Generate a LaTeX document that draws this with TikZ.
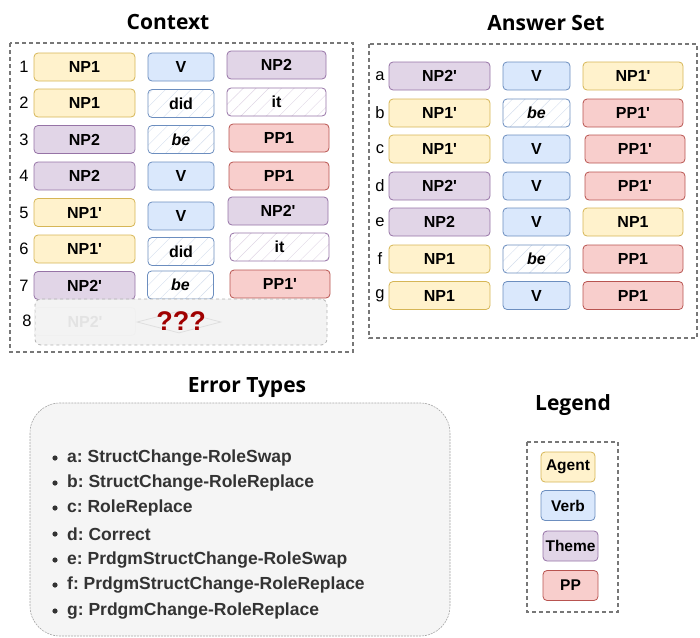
\documentclass[tikz,border=0pt]{standalone}
\usepackage{fontspec}
\setmainfont{Liberation Sans}[Ligatures=TeXOff]
\newfontfamily\titlefont{Open Sans}
\usetikzlibrary{shapes.geometric,patterns.meta}
\frenchspacing
\newcommand{\pr}{'}
\definecolor{yfill}{HTML}{FFF2CC}\definecolor{ydraw}{HTML}{D6B656}
\definecolor{bfill}{HTML}{DAE8FC}\definecolor{bdraw}{HTML}{6C8EBF}
\definecolor{pfill}{HTML}{E1D5E7}\definecolor{pdraw}{HTML}{9673A6}
\definecolor{rfill}{HTML}{F8CECC}\definecolor{rdraw}{HTML}{B85450}
\definecolor{boxgray}{HTML}{777777}
\definecolor{txtgray}{HTML}{333333}
\definecolor{qred}{HTML}{A00000}
\tikzset{
  wbox/.style={rounded corners=4pt, line width=0.8pt, minimum height=28pt, inner sep=0pt,
    font=\fontsize{16}{19}\selectfont\bfseries},
  wide/.style={wbox, minimum width=101pt},
  mid/.style={wbox, minimum width=66pt},
  ag/.style={fill=yfill, draw=ydraw},
  vb/.style={fill=bfill, draw=bdraw},
  th/.style={fill=pfill, draw=pdraw},
  ppb/.style={fill=rfill, draw=rdraw},
  hatchb/.style={draw=bdraw, pattern={Lines[angle=45,distance=9pt,line width=0.4pt]}, pattern color=bdraw!30},
  hatchp/.style={draw=pdraw, pattern={Lines[angle=45,distance=9pt,line width=0.4pt]}, pattern color=pdraw!30},
  rownum/.style={font=\fontsize{16.5}{19}\selectfont, inner sep=0pt},
  ttl/.style={font=\titlefont\bfseries\fontsize{21}{25}\selectfont, inner sep=0pt},
  dbox/.style={draw=boxgray, line width=1.2pt, dash pattern=on 4pt off 3pt},
  lg/.style={rounded corners=4pt, line width=0.8pt, inner sep=0pt, minimum width=54pt, minimum height=30pt,
    font=\fontsize{15.5}{18}\selectfont\bfseries},
  item/.style={anchor=west, inner sep=0pt, text=txtgray, font=\fontsize{17.5}{20}\selectfont\bfseries},
}
\begin{document}
\begin{tikzpicture}[x=1pt,y=-1pt]
\useasboundingbox (0,0) rectangle (700,637);
% titles
\node[ttl] (tctx) at (168,22) {Context};
\node[ttl] (tans) at (546,23) {Answer Set};
\node[ttl] (terr) at (247,388) {Error Types};
\node[ttl] (tleg) at (573,405) {Legend};
% dashed frames
\draw[dbox] (10,43) rectangle (353,352);
\draw[dbox] (369,44) rectangle (697,338);
% ---- Context rows
\node[rownum] (n1) at (24,67) {1};
\node[wide,ag] (c1a) at (84.5,67) {NP1};
\node[mid,vb] (c1b) at (181,67) {V};
\node[wide,th,minimum width=99pt] (c1c) at (276.5,65) {NP2};
\node[rownum] (n2) at (24,103) {2};
\node[wide,ag] (c2a) at (84.5,103) {NP1};
\node[mid,hatchb] (c2b) at (181,103.5) {did};
\node[wide,hatchp,minimum width=99pt] (c2c) at (276.5,102) {it};
\node[rownum] (n3) at (24,139.5) {3};
\node[wide,th] (c3a) at (84.5,139.5) {NP2};
\node[mid,hatchb] (c3b) at (181,139.5) {\itshape be};
\node[wide,ppb,minimum width=100pt] (c3c) at (279,138) {PP1};
\node[rownum] (n4) at (24,176) {4};
\node[wide,th] (c4a) at (84.5,176) {NP2};
\node[mid,vb] (c4b) at (181,176) {V};
\node[wide,ppb,minimum width=100pt] (c4c) at (279,176) {PP1};
\node[rownum] (n5) at (24,212.5) {5};
\node[wide,ag] (c5a) at (84.5,212.5) {NP1\pr};
\node[mid,vb] (c5b) at (181,216) {V};
\node[wide,th,minimum width=100pt] (c5c) at (278,211) {NP2\pr};
\node[rownum] (n6) at (24,249) {6};
\node[wide,ag] (c6a) at (84.5,249) {NP1\pr};
\node[mid,hatchb] (c6b) at (181,251.5) {did};
\node[wide,hatchp,minimum width=99pt] (c6c) at (279.5,247) {it};
\node[rownum] (n7) at (24,285.5) {7};
\node[wide,th] (c7a) at (84.5,285.5) {NP2\pr};
\node[mid,hatchb] (c7b) at (180.5,285) {\itshape be};
\node[wide,ppb,minimum width=100pt] (c7c) at (280,284) {PP1\pr};
\node[rownum] (n8) at (27,321) {8};
% ghost row 8
\node[rounded corners=6pt, fill=white!95!black, fill opacity=0.9, draw=gray!60, dashed, line width=0.8pt,
  minimum width=292pt, minimum height=46pt, inner sep=0pt] (ghost) at (181,322) {};
\node[wide, draw=gray!12, text=gray!22] (c8a) at (85,321.5) {NP2\pr};
\node[diamond, draw=gray!25, line width=0.8pt, minimum width=84pt, minimum height=22pt, inner sep=0pt, aspect=4] (c8b) at (179,322) {};
\node[inner sep=0pt, text=qred, font=\fontsize{27}{30}\selectfont\bfseries] (qq) at (181,321) {???};
% ---- Answer set rows
\node[rownum] (la) at (380,76) {a};
\node[wide,th] (aa) at (439.5,76) {NP2\pr};
\node[mid,vb,minimum width=67pt] (ab) at (536.5,76) {V};
\node[wide,ag,minimum width=100pt] (ac) at (633,76) {NP1\pr};
\node[rownum] (lb) at (380,113) {b};
\node[wide,ag] (ba) at (439.5,113) {NP1\pr};
\node[mid,hatchb,minimum width=67pt] (bb) at (536.5,113) {\itshape be};
\node[wide,ppb,minimum width=100pt] (bc) at (633,113) {PP1\pr};
\node[rownum] (lc) at (380,149) {c};
\node[wide,ag] (ca) at (439.5,149) {NP1\pr};
\node[mid,vb,minimum width=67pt] (cb) at (536.5,149) {V};
\node[wide,ppb,minimum width=100pt] (cc) at (635,149) {PP1\pr};
\node[rownum] (ld) at (380,186) {d};
\node[wide,th] (da) at (439.5,186) {NP2\pr};
\node[mid,vb,minimum width=67pt] (db) at (536.5,186) {V};
\node[wide,ppb,minimum width=100pt] (dc) at (635,186) {PP1\pr};
\node[rownum] (le) at (380,222) {e};
\node[wide,th] (ea) at (439.5,222) {NP2};
\node[mid,vb,minimum width=67pt] (eb) at (536.5,222) {V};
\node[wide,ag,minimum width=100pt] (ec) at (633,222) {NP1};
\node[rownum] (lf) at (380,259) {f};
\node[wide,ag] (fa) at (439.5,259) {NP1};
\node[mid,hatchb,minimum width=67pt] (fb) at (536.5,259) {\itshape be};
\node[wide,ppb,minimum width=100pt] (fc) at (633,259) {PP1};
\node[rownum] (lg) at (380,295.5) {g};
\node[wide,ag] (ga) at (439.5,295.5) {NP1};
\node[mid,vb,minimum width=67pt] (gb) at (536.5,295.5) {V};
\node[wide,ppb,minimum width=100pt] (gc) at (633,295.5) {PP1};
% ---- Error types
\draw[rounded corners=30pt, fill=white!96!black, draw=gray!70, dash pattern=on 2pt off 1pt, line width=0.6pt]
  (30,403) rectangle (450,636);
\foreach \y/\t/\n in {458/a: StructChange-RoleSwap/ia, 483/b: StructChange-RoleReplace/ib,
  508/c: RoleReplace/ic, 534/d: Correct/id, 560/e: PrdgmStructChange-RoleSwap/ie,
  585/f: PrdgmStructChange-RoleReplace/if, 611/g: PrdgmChange-RoleReplace/ig}{
  \fill[txtgray] (55,\y) circle (2.6pt);
  \node[item] (\n) at (67,\y) {\t};
}
% ---- Legend
\draw[dbox] (527,442) rectangle (618,612);
\node[lg,ag] (lagent) at (568,467) {Agent};
\node[lg,vb] (lverb) at (568,505.5) {Verb};
\node[lg,th,minimum width=55pt] (ltheme) at (570.5,546) {Theme};
\node[lg,ppb,minimum width=55pt] (lpp) at (570.5,585.5) {PP};
\end{tikzpicture}
\end{document}
